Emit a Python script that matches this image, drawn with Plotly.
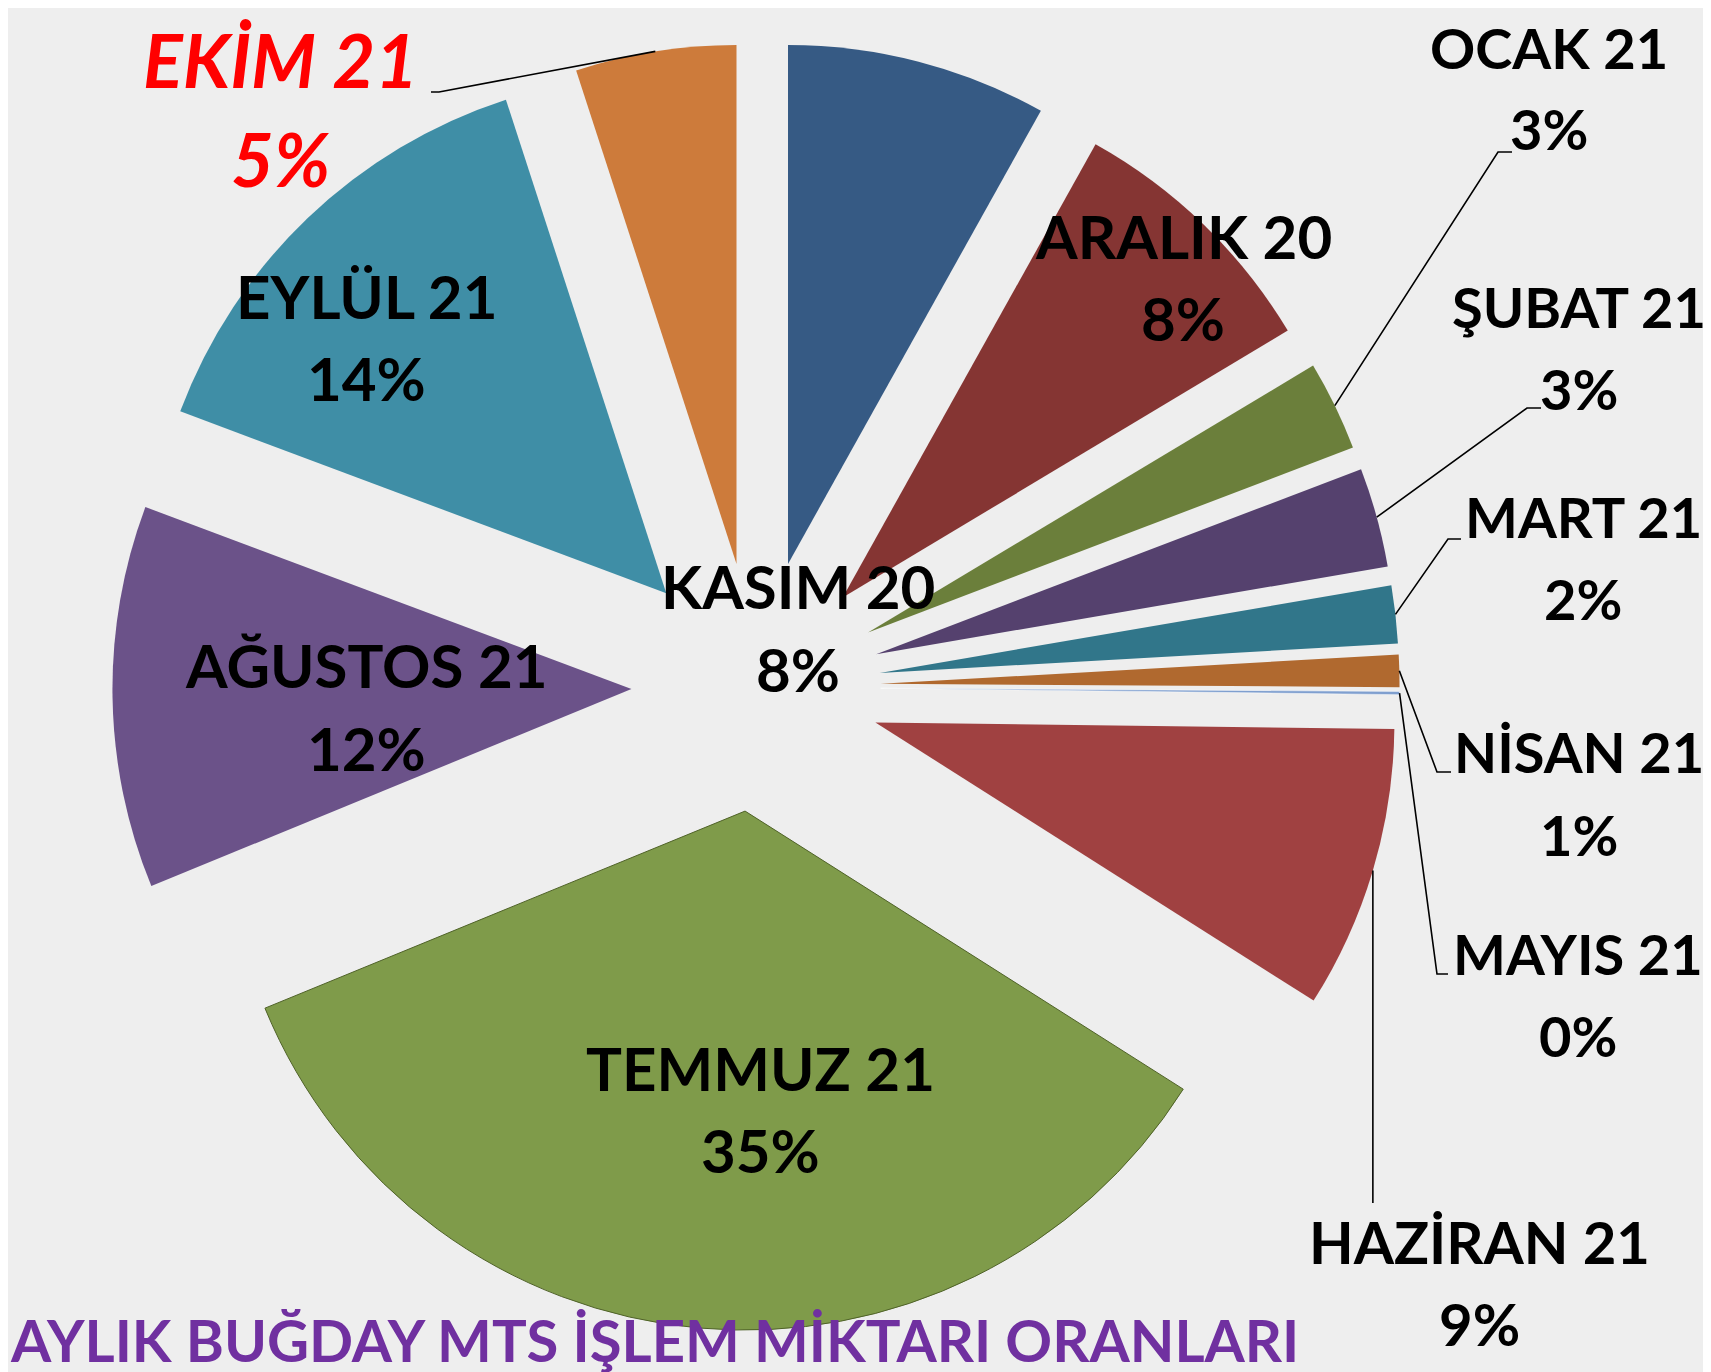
import math
import plotly.graph_objects as go

# ---------------- data ----------------
months = ["KASIM 20", "ARALIK 20", "OCAK 21", "ŞUBAT 21", "MART 21", "NİSAN 21",
          "MAYIS 21", "HAZİRAN 21", "TEMMUZ 21", "AĞUSTOS 21", "EYLÜL 21", "EKİM 21"]
shares = [8.1, 8.3, 2.8, 3.1, 1.8, 1.0, 0.1, 8.8, 34.8, 11.9, 14.3, 5.0]
title_text = "AYLIK BUĞDAY MTS İŞLEM MİKTARI ORANLARI"

# ---------------- style ----------------
colors = ["#365a84", "#853533", "#6b7f3b", "#55416e", "#31768a", "#b0692f",
          "#7f9fcf", "#a04141", "#7f9b4a", "#6b5289", "#3f8ea6", "#cd7b3b"]
pulls = [0.245, 0.24, 0.24, 0.24, 0.24, 0.24, 0.24, 0.24, 0.24, 0.24, 0.25, 0.24]
line_w = [0, 0, 0, 0, 0, 0, 0.5, 0, 1, 0, 0, 0]
line_c = ["#000000"] * 6 + ["#ffffff", "#000000", "#4f6228"] + ["#000000"] * 3

W, H = 1711, 1372
CX, CY, R = 748, 679, 519          # pie centre / radius in pixels
FONT = "Lato"
BG = "#eeeeee"

# label centres (x, y of name line, y of percent line, font size) in pixels
label_xy = [(790, 578, 661, 60), (1175, 228, 310, 60), (1541, 40, 121, 56),
            (1571, 298, 380, 56), (1575, 508, 590, 56), (1571, 743, 826, 56),
            (1570, 945, 1027, 56), (1471, 1233, 1315, 58), (752, 1060, 1142, 60),
            (358, 657, 740, 60), (358, 288, 370, 60), (272, 52, 150, 74)]
# leader-line elbow points (pixels), from the slice outwards
leaders = {
    2: [(1490, 144), (1504, 144)],
    3: [(1519, 400), (1533, 400)],
    4: [(1440, 531), (1453, 531)],
    5: [(1429, 764), (1443, 764)],
    6: [(1429, 966), (1440, 966)],
    7: [(None, 1195)],
    11: [(431, 84), (423, 84)],
}

def px(x):
    return x / W

def py(y):
    return 1 - y / H

maxp = max(pulls)
half = R * (1 + maxp)

fig = go.Figure(go.Pie(
    labels=months, values=shares, sort=False, direction="clockwise", rotation=0,
    marker=dict(colors=colors, line=dict(width=line_w, color=line_c)),
    pull=pulls, textinfo="none", hoverinfo="skip", showlegend=False,
    domain=dict(x=[px(CX - half), px(CX + half)], y=[py(CY + half), py(CY - half)]),
))

total = sum(shares)
annotations = []
shapes = []
cum = 0.0
for i, (m, v) in enumerate(zip(months, shares)):
    mid = (cum + v / 2) / total * 2 * math.pi
    cum += v
    pct = f"{round(v / total * 100):.0f}%"
    x, y1, y2, fs = label_xy[i]
    if m.startswith("EKİM"):
        f = dict(family=FONT, size=fs, color="#ff0000", weight="bold", style="italic")
    else:
        f = dict(family=FONT, size=fs, color="#000000", weight="bold")
    for txt, yy in ((m, y1), (pct, y2)):
        annotations.append(dict(text=txt, x=px(x), y=py(yy), xref="paper", yref="paper",
                                xanchor="center", yanchor="middle", showarrow=False, font=f))
    if i in leaders:
        ax = CX + (1 + pulls[i]) * R * math.sin(mid)
        ay = CY - (1 + pulls[i]) * R * math.cos(mid)
        pts = [(ax, ay)] + [((ax if a is None else a), b) for a, b in leaders[i]]
        path = "M " + " L ".join(f"{px(a):.5f},{py(b):.5f}" for a, b in pts)
        shapes.append(dict(type="path", path=path, xref="paper", yref="paper",
                           line=dict(color="#000000", width=1.6)))

annotations.append(dict(text=title_text, x=px(0), y=py(1331), xref="paper", yref="paper",
                        xanchor="left", yanchor="middle", showarrow=False,
                        font=dict(family=FONT, size=58, color="#7030a0", weight="bold")))

fig.update_layout(
    width=W, height=H, margin=dict(l=0, r=0, t=0, b=0),
    paper_bgcolor=BG, plot_bgcolor=BG,
    annotations=annotations, shapes=shapes, hovermode=False,
)
fig.write_html("out.html")
